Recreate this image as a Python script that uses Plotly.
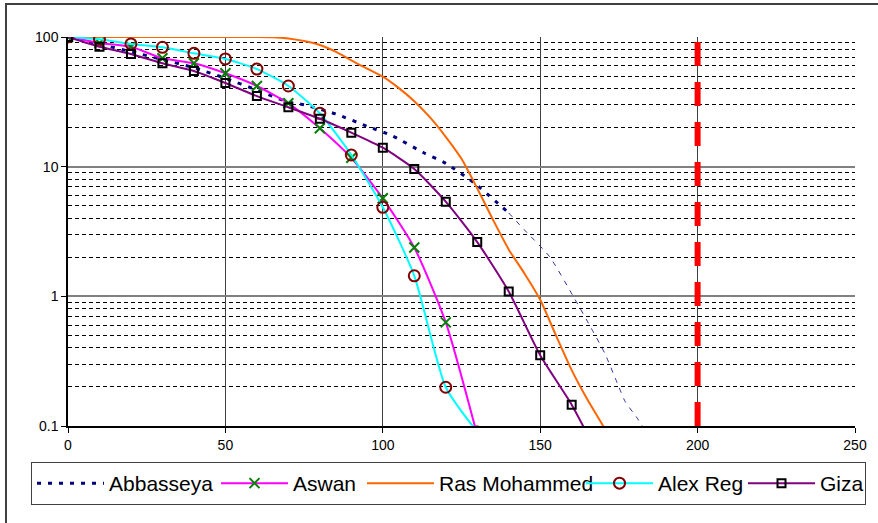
import plotly.graph_objects as go

# ---- data ----
aswan_x = [0, 10, 20, 30, 40, 50, 60, 70, 80, 90, 100, 110, 120, 130]
aswan_y = [100, 90, 84, 68.5, 62.7, 52.5, 41.9, 30.8, 19.8, 11.7, 5.7, 2.38, 0.63, 0.085]

alex_x = [0, 10, 20, 30, 40, 50, 60, 70, 80, 90, 100, 110, 120, 130]
alex_y = [100, 96, 88.4, 83.3, 74.8, 67.7, 56.6, 41.9, 25.8, 12.3, 4.86, 1.44, 0.199, 0.09]

giza_x = [0, 10, 20, 30, 40, 50, 60, 70, 80, 90, 100, 110, 120, 130, 140, 150, 160, 170]
giza_y = [100, 84, 74, 62.7, 54.7, 44.2, 35, 28.7, 23.4, 18.3, 14, 9.6, 5.37, 2.62, 1.09, 0.351, 0.146, 0.05]

ras_x = [0, 20, 40, 60, 65, 70, 75, 80, 85, 90, 95, 100, 105, 110, 115, 120, 125, 130, 135,
         140, 145, 150, 155, 160, 165, 170, 175]
ras_y = [100, 100, 100, 100, 99.6, 97.5, 93, 86.7, 77, 66, 57, 49.4, 40.5, 32, 24, 17, 11.5, 6.8, 3.9,
         2.3, 1.5, 0.94, 0.5, 0.27, 0.16, 0.1, 0.06]

abb_x = [0, 10, 20, 30, 40, 50, 60, 70, 75, 85, 95, 103, 113, 120, 129, 140]
abb_y = [100, 88, 77, 67, 58, 48, 39, 31.5, 30, 25.5, 20.5, 17.3, 12.8, 10.6, 7.5, 4.4]
abb_tail_x = [140, 145, 153, 160.5, 166, 170.5, 175, 177, 180.5, 185]
abb_tail_y = [4.4, 3.25, 2.02, 1.0, 0.58, 0.364, 0.2, 0.154, 0.118, 0.08]

limit_x = [200, 200]
limit_y = [0.1, 97]

y_ticks = [0.1, 1, 10, 100]
y_labels = ["0.1", "1", "10", "100"]
x_ticks = [0, 50, 100, 150, 200, 250]

FONT = "Liberation Sans, Arial, sans-serif"

fig = go.Figure()

fig.add_trace(go.Scatter(x=limit_x, y=limit_y, mode="lines", showlegend=False,
                         line=dict(color="#FF0000", width=6, dash="24px,16px"), hoverinfo="skip"))

fig.add_trace(go.Scatter(x=abb_x, y=abb_y, mode="lines", name="Abbasseya",
                         line=dict(color="#000080", width=3, dash="4px,7px", shape="spline", smoothing=0.6),
                         legendwidth=102))
fig.add_trace(go.Scatter(x=abb_tail_x, y=abb_tail_y, mode="lines", showlegend=False,
                         line=dict(color="#3030A0", width=1, dash="5px,6px", shape="spline", smoothing=0.6)))

fig.add_trace(go.Scatter(x=aswan_x, y=aswan_y, mode="lines+markers", name="Aswan",
                         line=dict(color="#FF00FF", width=2, shape="spline", smoothing=0.6),
                         marker=dict(symbol="x-thin", size=10, line=dict(color="#008000", width=2), color="#008000"),
                         legendwidth=64))

fig.add_trace(go.Scatter(x=ras_x, y=ras_y, mode="lines", name="Ras Mohammed",
                         line=dict(color="#FF6600", width=2, shape="spline", smoothing=0.6),
                         legendwidth=137))

fig.add_trace(go.Scatter(x=alex_x, y=alex_y, mode="lines+markers", name="Alex Reg",
                         line=dict(color="#00FFFF", width=2, shape="spline", smoothing=0.6),
                         marker=dict(symbol="circle-open", size=11, line=dict(color="#800000", width=2), color="#800000"),
                         legendwidth=80))

fig.add_trace(go.Scatter(x=giza_x, y=giza_y, mode="lines+markers", name="Giza",
                         line=dict(color="#800080", width=2, shape="spline", smoothing=0.6),
                         marker=dict(symbol="square-open", size=8, line=dict(color="#000000", width=2), color="#000000"),
                         legendwidth=40))

fig.update_layout(
    width=878, height=523,
    margin=dict(l=68, r=23, t=37, b=97),
    paper_bgcolor="white", plot_bgcolor="white",
    font=dict(family=FONT, color="black", size=14),
    legend=dict(orientation="h", x=-0.047, xanchor="left", y=-0.0925, yanchor="top",
                bordercolor="#404040", borderwidth=1, font=dict(size=21, family=FONT),
                itemwidth=67, tracegroupgap=0, bgcolor="white"),
    shapes=[dict(type="rect", xref="paper", yref="paper",
                 x0=-62/787, x1=822/787, y0=-0.3, y1=(426-4)/389,
                 line=dict(color="#404040", width=2), layer="below")],
)

fig.update_xaxes(range=[0, 250], tickvals=x_ticks, showgrid=True, gridcolor="#404040", gridwidth=1,
                 showline=True, linecolor="black", linewidth=1.5, ticks="outside", ticklen=5,
                 tickcolor="black", zeroline=False, tickfont=dict(size=14, family=FONT))
fig.update_yaxes(type="log", range=[-1, 2], tickvals=y_ticks, ticktext=y_labels,
                 showgrid=True, gridcolor="#808080", gridwidth=1.5,
                 showline=True, linecolor="black", linewidth=1.5, ticks="outside", ticklen=5,
                 tickcolor="black", tickfont=dict(size=14, family=FONT),
                 minor=dict(dtick="D1", showgrid=True, griddash="4px,3px", gridcolor="black", gridwidth=1, ticks=""))

fig.write_html("out.html", config={"displayModeBar": False},
               post_script="document.body.style.margin='0px';")
